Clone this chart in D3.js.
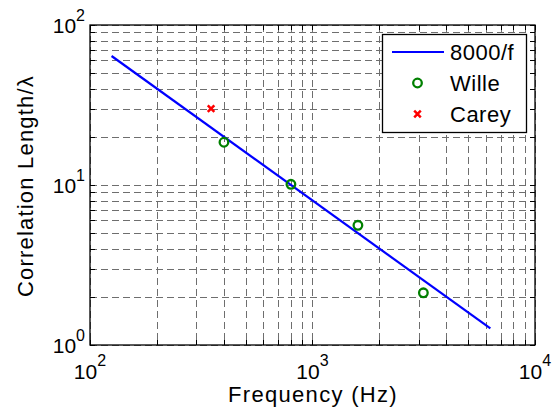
<!DOCTYPE html>
<html>
<head>
<meta charset="utf-8">
<script src="https://cdn.jsdelivr.net/npm/d3@7"></script>
<style>
  body { margin: 0; background: #fff; }
  text { font-family: "Liberation Sans", Arial, sans-serif; fill: #000; }
</style>
</head>
<body>
<script>
// data
const fitFreq = [125, 6300];
const fitVals = [64, 1.27];
const willeFreq = [400, 800, 1600, 3150];
const willeVals = [18.5, 10.1, 5.6, 2.12];
const careyFreq = [350];
const careyVals = [30];
const xMajor = [100, 1000, 10000];
const yMajor = [1, 10, 100];
const legendLabels = ['8000/f', 'Wille', 'Carey'];

const width = 558;
const height = 413;
const plot = { left: 90, top: 25, right: 535, bottom: 345 };

const svg = d3.select('body')
  .append('svg')
  .attr('width', width)
  .attr('height', height);

const x = d3.scaleLog().domain([100, 10000]).range([plot.left, plot.right]);
const y = d3.scaleLog().domain([1, 100]).range([plot.bottom, plot.top]);

const exp = v => Math.round(Math.log10(v));

// grid
const grid = svg.append('g')
  .attr('stroke', '#6e6e6e')
  .attr('stroke-width', 1)
  .attr('stroke-dasharray', '7,4');

grid.selectAll('.gx')
  .data(x.ticks())
  .enter().append('line')
  .attr('x1', d => Math.round(x(d)) + 0.5)
  .attr('x2', d => Math.round(x(d)) + 0.5)
  .attr('y1', plot.top)
  .attr('y2', plot.bottom);

grid.selectAll('.gy')
  .data(y.ticks())
  .enter().append('line')
  .attr('y1', d => Math.round(y(d)) + 0.5)
  .attr('y2', d => Math.round(y(d)) + 0.5)
  .attr('x1', plot.left)
  .attr('x2', plot.right);

// tick marks, inside on all four sides
const tickLen = 5;
const ticks = svg.append('g').attr('stroke', '#000').attr('stroke-width', 1);

[plot.bottom, plot.top].forEach(edge => {
  const dir = edge === plot.bottom ? -1 : 1;
  ticks.selectAll(null)
    .data(x.ticks())
    .enter().append('line')
    .attr('x1', d => Math.round(x(d)) + 0.5)
    .attr('x2', d => Math.round(x(d)) + 0.5)
    .attr('y1', edge)
    .attr('y2', edge + dir * tickLen);
});

[plot.left, plot.right].forEach(edge => {
  const dir = edge === plot.left ? 1 : -1;
  ticks.selectAll(null)
    .data(y.ticks())
    .enter().append('line')
    .attr('y1', d => Math.round(y(d)) + 0.5)
    .attr('y2', d => Math.round(y(d)) + 0.5)
    .attr('x1', edge)
    .attr('x2', edge + dir * tickLen);
});

// box
svg.append('rect')
  .attr('x', plot.left)
  .attr('y', plot.top)
  .attr('width', plot.right - plot.left)
  .attr('height', plot.bottom - plot.top)
  .attr('fill', 'none')
  .attr('stroke', '#000')
  .attr('stroke-width', 1.3);

// tick labels
const xl = svg.append('g').selectAll('text')
  .data(xMajor)
  .enter().append('text')
  .attr('x', d => x(d))
  .attr('y', 379)
  .attr('text-anchor', 'middle')
  .style('font-size', '21px');
xl.append('tspan').text('10');
xl.append('tspan').attr('dy', -13).style('font-size', '16px').text(d => exp(d));

const yl = svg.append('g').selectAll('text')
  .data(yMajor)
  .enter().append('text')
  .attr('x', 85)
  .attr('y', d => y(d) + 8)
  .attr('text-anchor', 'end')
  .style('font-size', '21px');
yl.append('tspan').text('10');
yl.append('tspan').attr('dy', -12).style('font-size', '16px').text(d => exp(d));

// axis titles
svg.append('text')
  .attr('x', 313)
  .attr('y', 402)
  .attr('text-anchor', 'middle')
  .style('font-size', '22px')
  .style('letter-spacing', '1.3px')
  .text('Frequency (Hz)');

svg.append('text')
  .attr('transform', 'translate(33,186) rotate(-90)')
  .attr('text-anchor', 'middle')
  .style('font-size', '22px')
  .style('letter-spacing', '1.2px')
  .text('Correlation Length/λ');

// fit line
const line = d3.line()
  .x(d => x(d[0]))
  .y(d => y(d[1]));

svg.append('path')
  .datum(d3.zip(fitFreq, fitVals))
  .attr('d', line)
  .attr('fill', 'none')
  .attr('stroke', '#0000ff')
  .attr('stroke-width', 2.2);

// Wille points
svg.append('g').selectAll('circle')
  .data(d3.zip(willeFreq, willeVals))
  .enter().append('circle')
  .attr('cx', d => x(d[0]))
  .attr('cy', d => y(d[1]))
  .attr('r', 4.3)
  .attr('fill', 'none')
  .attr('stroke', '#008000')
  .attr('stroke-width', 2.3);

// Carey points
const cross = d3.symbol().type(d3.symbolX).size(30);
svg.append('g').selectAll('path')
  .data(d3.zip(careyFreq, careyVals))
  .enter().append('path')
  .attr('d', cross)
  .attr('transform', d => `translate(${x(d[0])},${y(d[1])})`)
  .attr('fill', 'none')
  .attr('stroke', '#ff0000')
  .attr('stroke-width', 2.5);

// legend
const legend = svg.append('g');
legend.append('rect')
  .attr('x', 382.5)
  .attr('y', 34.5)
  .attr('width', 144)
  .attr('height', 98)
  .attr('fill', '#fff')
  .attr('stroke', '#000')
  .attr('stroke-width', 1.3);

const rowY = [52, 83, 114];
legend.append('line')
  .attr('x1', 392).attr('x2', 444)
  .attr('y1', rowY[0]).attr('y2', rowY[0])
  .attr('stroke', '#0000ff')
  .attr('stroke-width', 2.2);
legend.append('circle')
  .attr('cx', 417.5).attr('cy', rowY[1])
  .attr('r', 4.3)
  .attr('fill', 'none')
  .attr('stroke', '#008000')
  .attr('stroke-width', 2.3);
legend.append('path')
  .attr('d', cross)
  .attr('transform', `translate(417.5,${rowY[2]})`)
  .attr('fill', 'none')
  .attr('stroke', '#ff0000')
  .attr('stroke-width', 2.5);

legend.selectAll('text')
  .data(legendLabels)
  .enter().append('text')
  .attr('x', 450)
  .attr('y', (d, i) => rowY[i] + 8)
  .style('font-size', '22px')
  .style('letter-spacing', '0.5px')
  .text(d => d);
</script>
</body>
</html>
